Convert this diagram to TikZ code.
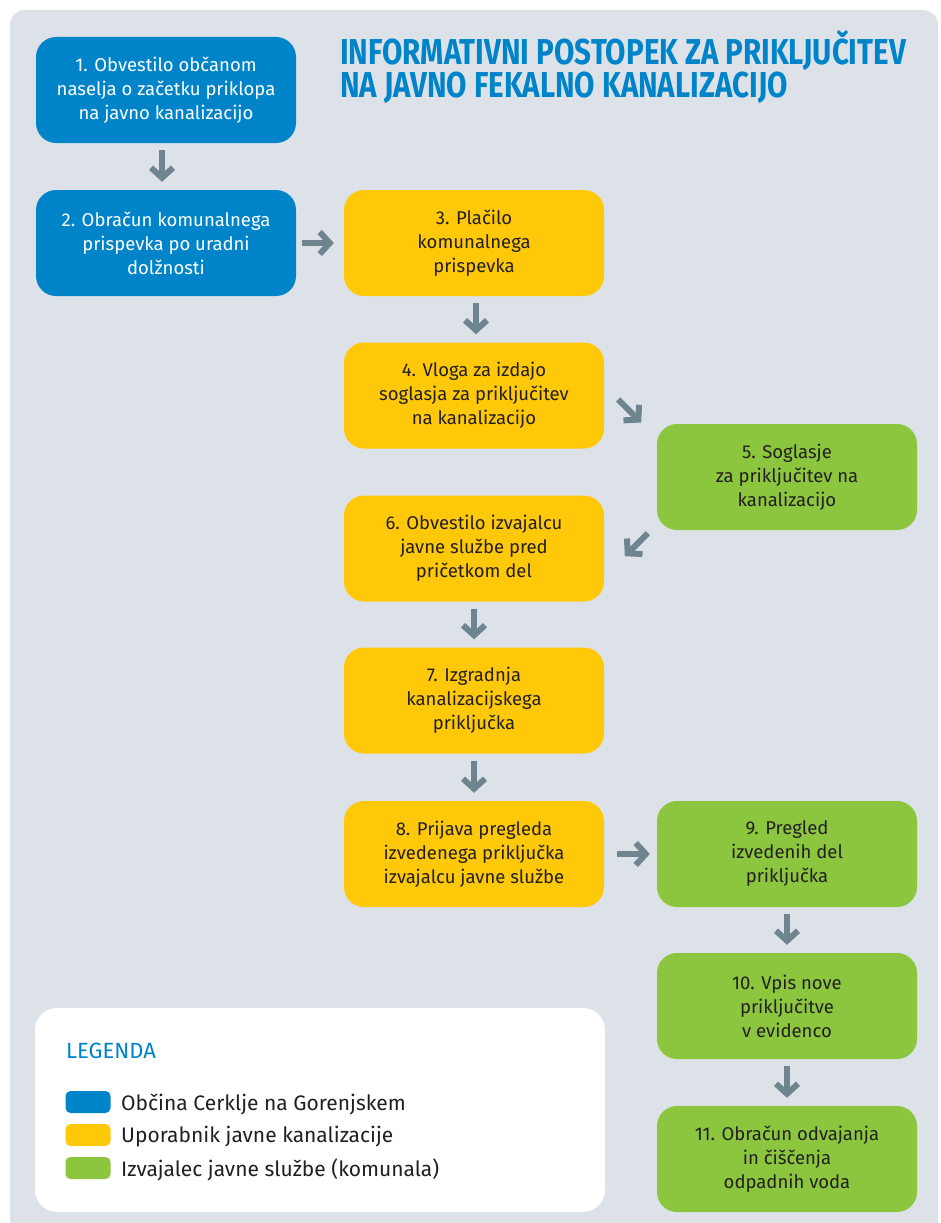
\documentclass[tikz,border=0pt]{standalone}
\usepackage{fontspec}
\setmainfont{Fira Sans}
\newfontfamily\titlefont[FakeStretch=0.82]{Fira Sans Bold}
\usetikzlibrary{arrows.meta,calc}
\definecolor{bgpanel}{HTML}{DDE2E9}
\definecolor{cblue}{HTML}{0084C9}
\definecolor{cyellow}{HTML}{FFC90A}
\definecolor{cgreen}{HTML}{8CC63F}
\definecolor{carrow}{HTML}{6E8590}
\definecolor{ctext}{HTML}{231F20}
\tikzset{
  stepbox/.style={rounded corners=20pt, minimum width=260pt, minimum height=106pt,
    inner sep=0pt, align=center, font=\fontsize{18.5}{24}\selectfont, text=ctext},
  bluebox/.style={stepbox, fill=cblue, text=white},
  yellowbox/.style={stepbox, fill=cyellow},
  greenbox/.style={stepbox, fill=cgreen},
  arr/.style={draw=carrow, line width=6pt,
    -{Straight Barb[length=10pt,width=22pt]}},
  vgap/.style={arr, shorten <=7pt, shorten >=8pt},
  hgap/.style={arr, shorten <=6pt, shorten >=10pt},
  swatch/.style={rounded corners=5pt, minimum width=45pt, minimum height=22pt, inner sep=0pt},
  legtext/.style={anchor=west, font=\fontsize{21}{24}\selectfont, text=ctext, inner sep=0pt},
}
\begin{document}
\begin{tikzpicture}[x=1pt,y=-1pt]
\useasboundingbox (0,0) rectangle (941,1223);
\clip (0,0) rectangle (941,1223);
\fill[bgpanel, rounded corners=15pt] (10,10) rectangle (938,1250);

% title
\node[anchor=base west, inner sep=0pt, text=cblue, align=left,
  font=\titlefont\fontsize{36}{30}\selectfont] (title) at (340,97)
  {INFORMATIVNI POSTOPEK ZA PRIKLJUČITEV\\NA JAVNO FEKALNO KANALIZACIJO};

% steps
\node[bluebox] (s1) at (166,90) {1. Obvestilo občanom\\naselja o začetku priklopa\\na javno kanalizacijo};
\node[bluebox] (s2) at (166,243) {2. Obračun komunalnega\\prispevka po uradni\\dolžnosti};
\node[yellowbox] (s3) at (474,243) {3. Plačilo\\komunalnega\\prispevka};
\node[yellowbox] (s4) at (474,395.5) {4. Vloga za izdajo\\soglasja za priključitev\\na kanalizacijo};
\node[greenbox] (s5) at (787,477) {5. Soglasje\\za priključitev na\\kanalizacijo};
\node[yellowbox] (s6) at (474,548.5) {6. Obvestilo izvajalcu\\javne službe pred\\pričetkom del};
\node[yellowbox] (s7) at (474,700.5) {7. Izgradnja\\kanalizacijskega\\priključka};
\node[yellowbox] (s8) at (474,854) {8. Prijava pregleda\\izvedenega priključka\\izvajalcu javne službe};
\node[greenbox] (s9) at (787,854) {9. Pregled\\izvedenih del\\priključka};
\node[greenbox] (s10) at (787,1006) {10. Vpis nove\\priključitve\\v evidenco};
\node[greenbox] (s11) at (787,1159) {11. Obračun odvajanja\\in čiščenja\\odpadnih voda};

% connectors
\draw[vgap] ([xshift=-4pt]s1.south) -- ([xshift=-4pt]s2.north);
\draw[hgap] (s2.east) -- (s3.west);
\draw[vgap] ([xshift=2pt]s3.south) -- ([xshift=2pt]s4.north);
\draw[arr] ($(s4.east)+(14,4)$) -- ($(s4.east)+(37,27)$);
\draw[arr] ($(s5.south west)+(-9,3)$) -- ($(s5.south west)+(-32,26)$);
\draw[vgap] (s6.south) -- (s7.north);
\draw[vgap] (s7.south) -- (s8.north);
\draw[hgap, shorten <=13pt, shorten >=7pt] (s8.east) -- (s9.west);
\draw[vgap] (s9.south) -- (s10.north);
\draw[vgap] (s10.south) -- (s11.north);

% legend
\node[fill=white, rounded corners=22pt, minimum width=570pt, minimum height=204pt, inner sep=0pt] (legend) at (320,1110) {};
\node[anchor=base west, inner sep=0pt, text=cblue, font=\fontsize{22}{24}\selectfont] (legtitle) at (66,1058) {LEGENDA};
\node[swatch, fill=cblue] (lg1) at (88,1102) {};
\node[swatch, fill=cyellow] (lg2) at (88,1135) {};
\node[swatch, fill=cgreen] (lg3) at (88,1168) {};
\node[legtext] (lt1) at (121,1104) {Občina Cerklje na Gorenjskem};
\node[legtext] (lt2) at (121,1137) {Uporabnik javne kanalizacije};
\node[legtext] (lt3) at (121,1170) {Izvajalec javne službe (komunala)};
\end{tikzpicture}
\end{document}
